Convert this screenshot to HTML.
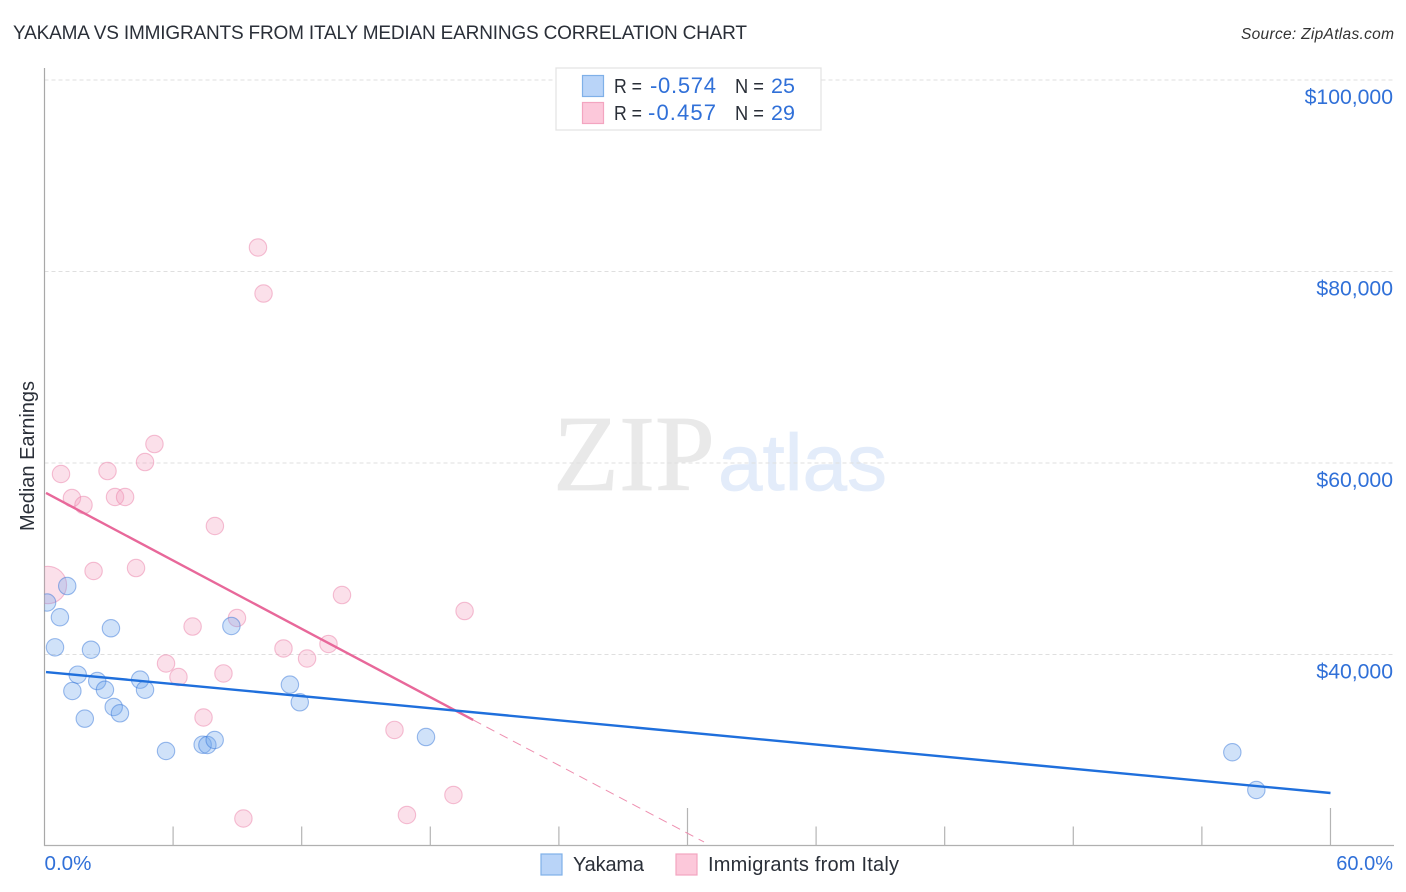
<!DOCTYPE html>
<html lang="en">
<head>
<meta charset="utf-8">
<title>Yakama vs Immigrants from Italy Median Earnings Correlation Chart</title>
<style>
html,body{margin:0;padding:0;background:#fff;width:1406px;height:892px;overflow:hidden}
svg{display:block}
text{font-family:"Liberation Sans",sans-serif}
</style>
</head>
<body>
<svg id="chart" xmlns="http://www.w3.org/2000/svg" width="1406" height="892" viewBox="0 0 1406 892">
  <defs>
    <clipPath id="plot-clip"><rect x="44.5" y="60" width="1350" height="785.5"/></clipPath>
  </defs>
  <text x="13" y="39" font-size="19" fill="#2a2f38" textLength="734" lengthAdjust="spacing">YAKAMA VS IMMIGRANTS FROM ITALY MEDIAN EARNINGS CORRELATION CHART</text>
  <text x="1241" y="39" font-size="15.5" font-style="italic" fill="#333" textLength="153" lengthAdjust="spacing">Source: ZipAtlas.com</text>

  <g>
    <text x="553" y="490" font-size="108" fill="#e9e9e9" stroke="#e9e9e9" stroke-width="0.8" style="font-family:'Liberation Serif',serif">ZIP</text>
    <text x="718" y="490" font-size="80" fill="#e3ecfa" stroke="#e3ecfa" stroke-width="0.8">atlas</text>
  </g>

  <g id="grid"></g>
  <g id="axes">
    <line x1="44.5" y1="68" x2="44.5" y2="846" stroke="#a8a8a8" stroke-width="1.2"/>
    <line x1="44" y1="845.5" x2="1394" y2="845.5" stroke="#b0b0b0" stroke-width="1.2"/>
  </g>
  <g id="x-ticks"></g>
  <g id="y-labels"></g>
  <g id="x-labels"></g>
  <text transform="translate(34 456) rotate(-90)" font-size="20" fill="#2a2f38" text-anchor="middle">Median Earnings</text>

  <g id="points-pink" clip-path="url(#plot-clip)"></g>
  <g id="points-blue" clip-path="url(#plot-clip)"></g>
  <g id="trends"></g>

  <g>
    <rect x="556" y="68" width="265" height="62" fill="#fff" stroke="#e2e2e2" stroke-width="1.2"/>
    <rect x="582.5" y="75.5" width="21" height="21" fill="#b9d4f8" stroke="#7fb0e8" stroke-width="1.2"/>
    <rect x="582.5" y="102.5" width="21" height="21" fill="#fcc8da" stroke="#f3a5c0" stroke-width="1.2"/>
    <text x="614" y="93" font-size="20" fill="#2a2f38" textLength="28" lengthAdjust="spacingAndGlyphs">R =</text>
    <text x="650" y="93" font-size="22" fill="#3070d8" textLength="66" lengthAdjust="spacing">-0.574</text>
    <text x="735" y="93" font-size="20" fill="#2a2f38" textLength="29" lengthAdjust="spacingAndGlyphs">N =</text>
    <text x="771" y="93" font-size="21.5" fill="#3070d8">25</text>
    <text x="614" y="120" font-size="20" fill="#2a2f38" textLength="28" lengthAdjust="spacingAndGlyphs">R =</text>
    <text x="648" y="120" font-size="22" fill="#3070d8" textLength="68" lengthAdjust="spacing">-0.457</text>
    <text x="735" y="120" font-size="20" fill="#2a2f38" textLength="29" lengthAdjust="spacingAndGlyphs">N =</text>
    <text x="771" y="120" font-size="21.5" fill="#3070d8">29</text>
  </g>

  <g>
    <g>
      <rect x="541" y="854" width="21" height="21" fill="#b9d4f8" stroke="#7fb0e8" stroke-width="1.2"/>
      <text x="573" y="871" font-size="20" fill="#2a2f38" textLength="71" lengthAdjust="spacing">Yakama</text>
    </g>
    <g>
      <rect x="676" y="854" width="21" height="21" fill="#fcc8da" stroke="#f3a5c0" stroke-width="1.2"/>
      <text x="708" y="871" font-size="20" fill="#2a2f38" textLength="191" lengthAdjust="spacing">Immigrants from Italy</text>
    </g>
  </g>
</svg>
<script>
const yTickValues = [40000, 60000, 80000, 100000];
const yTickLabels = ["$40,000", "$60,000", "$80,000", "$100,000"];
const xTickValues = [0, 6, 12, 18, 24, 30, 36, 42, 48, 54, 60];
const xMajorTicks = [30, 60];
const xLabelValues = [0, 60];
const xLabelText = ["0.0%", "60.0%"];

const yakamaX = [1.06, 0.12, 0.72, 3.10, 8.72, 0.49, 2.17, 1.55, 2.46, 1.30, 2.82, 4.46, 4.69, 3.23, 3.52, 1.88, 11.45, 11.91, 5.67, 7.38, 7.60, 7.94, 17.80, 55.42, 56.54];
const yakamaY = [47150, 45430, 43890, 42740, 42980, 40750, 40500, 37890, 37230, 36190, 36320, 37370, 36320, 34520, 33860, 33300, 36850, 35010, 29920, 30580, 30550, 31070, 31380, 29790, 25850];

const italyX = [0.77, 1.28, 1.82, 2.94, 3.29, 3.76, 4.69, 5.13, 7.95, 2.29, 4.27, 0.16, 6.91, 8.98, 5.67, 6.25, 8.35, 7.42, 9.28, 11.15, 12.25, 13.25, 13.88, 19.60, 16.33, 16.91, 19.08, 9.96, 10.22];
const italyY = [58850, 56340, 55610, 59160, 56450, 56450, 60100, 61980, 53420, 48720, 49030, 47260, 42920, 43810, 39060, 37650, 38020, 33420, 22870, 40630, 39580, 41100, 46210, 44540, 32120, 23240, 25330, 82510, 77700];
const italyPopulation = [1, 1, 1, 1, 1, 1, 1, 1, 1, 1, 1, 4.6, 1, 1, 1, 1, 1, 1, 1, 1, 1, 1, 1, 1, 1, 1, 1, 1, 1];

const yakamaTrendX = [0.07, 60];
const yakamaTrendY = [38170, 25535];
const italyTrendX = [0.07, 20.0];
const italyTrendY = [56870, 33160];
const italyDashX = [20.0, 30.77];
const italyDashY = [33160, 20420];

const NS = "http://www.w3.org/2000/svg";
const xScale = function (v) { return 44.5 + v * 21.433; };
const yScale = function (v) { return 654.5 - (v - 40000) * 0.009575; };
const baseRadius = 8.7;

function make(tag, parentId, attrs) {
  const el = document.createElementNS(NS, tag);
  Object.keys(attrs).forEach(function (k) { el.setAttribute(k, attrs[k]); });
  document.getElementById(parentId).appendChild(el);
  return el;
}

yTickValues.forEach(function (v, i) {
  const g = make("line", "grid", { x1: 44.5, x2: 1394, y1: yScale(v), y2: yScale(v), stroke: "#dfdfdf", "stroke-width": 1, "stroke-dasharray": "4 3" });
  
  
  const t = make("text", "y-labels", { x: 1393, y: yScale(v) + 24, "font-size": 21.2, fill: "#3070d8", "text-anchor": "end" });
  
  
  t.textContent = yTickLabels[i];
});

xTickValues.forEach(function (v) {
  if (v === 0) return;
  const top = xMajorTicks.indexOf(v) >= 0 ? 808 : 826.5;
  const l = make("line", "x-ticks", { x1: xScale(v), x2: xScale(v), y1: top, y2: 845.5, stroke: "#b4b4b4", "stroke-width": 1.2 });
  
  
});

xLabelValues.forEach(function (v, i) {
  const t = make("text", "x-labels", { x: i === 0 ? xScale(v) : 1393, y: 870, "font-size": i === 0 ? 20.6 : 20, fill: "#3070d8", "text-anchor": i === 0 ? "start" : "end" });
  
  
  t.textContent = xLabelText[i];
});

italyX.forEach(function (v, i) {
  const c = make("circle", "points-pink", { cx: xScale(v), cy: yScale(italyY[i]), r: baseRadius * Math.sqrt(italyPopulation[i]), fill: "rgba(244,160,190,0.32)", stroke: "rgba(236,130,170,0.5)", "stroke-width": 1.1 });
  
  
});

yakamaX.forEach(function (v, i) {
  const c = make("circle", "points-blue", { cx: xScale(v), cy: yScale(yakamaY[i]), r: baseRadius, fill: "rgba(110,165,235,0.32)", stroke: "rgba(50,115,215,0.48)", "stroke-width": 1.1 });
  
  
});

const dash = make("line", "trends", { x1: xScale(italyDashX[0]), y1: yScale(italyDashY[0]), x2: xScale(italyDashX[1]), y2: yScale(italyDashY[1]), stroke: "#ee8fb0", "stroke-width": 1, "stroke-dasharray": "9 6" });



const italyLine = make("line", "trends", { x1: xScale(italyTrendX[0]), y1: yScale(italyTrendY[0]), x2: xScale(italyTrendX[1]), y2: yScale(italyTrendY[1]), stroke: "#e8689a", "stroke-width": 2.4 });



const yakamaLine = make("line", "trends", { x1: xScale(yakamaTrendX[0]), y1: yScale(yakamaTrendY[0]), x2: xScale(yakamaTrendX[1]), y2: yScale(yakamaTrendY[1]), stroke: "#1f6fdc", "stroke-width": 2.4 });


</script>
</body>
</html>
